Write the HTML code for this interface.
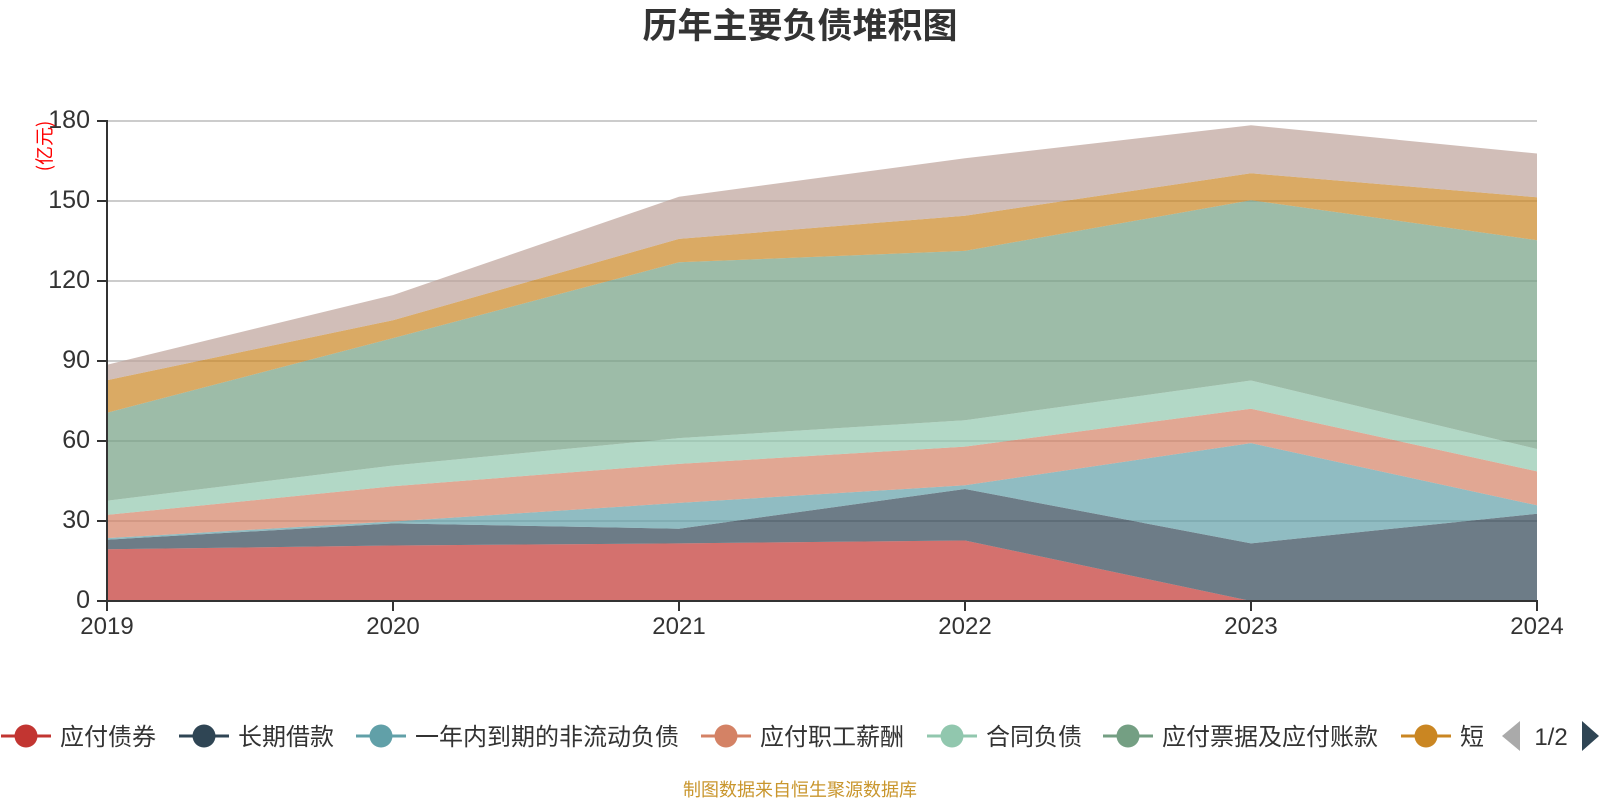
<!DOCTYPE html>
<html><head><meta charset="utf-8"><style>
html,body{margin:0;padding:0;background:#fff;}
svg{display:block;}
text{font-family:"Liberation Sans","Noto Sans CJK SC",sans-serif;}
</style></head><body>
<svg width="1600" height="800" viewBox="0 0 1600 800" xmlns="http://www.w3.org/2000/svg">
<rect width="1600" height="800" fill="#fff"/>
<text x="800" y="38" text-anchor="middle" font-size="35" font-weight="bold" fill="#333" style="font-family:'Noto Sans CJK SC','WenQuanYi Zen Hei',sans-serif">历年主要负债堆积图</text>
<g stroke="#ccc" stroke-width="2">
<line x1="107" y1="121" x2="1537" y2="121"/>
<line x1="107" y1="201" x2="1537" y2="201"/>
<line x1="107" y1="281" x2="1537" y2="281"/>
<line x1="107" y1="361" x2="1537" y2="361"/>
<line x1="107" y1="441" x2="1537" y2="441"/>
<line x1="107" y1="521" x2="1537" y2="521"/>
</g>
<g fill-opacity="0.7" stroke="none">
<polygon fill="#c23531" points="107,549.3 393,545.5 679,543.4 965,540.5 1251,601 1537,601 1537,601 107,601"/>
<polygon fill="#2f4554" points="107,539.7 393,523.4 679,528.7 965,489.0 1251,543.4 1537,513.8 1537,601 1251,601 965,540.5 679,543.4 393,545.5 107,549.3"/>
<polygon fill="#61a0a8" points="107,538.1 393,521.5 679,502.9 965,485.3 1251,443.1 1537,505.3 1537,513.8 1251,543.4 965,489.0 679,528.7 393,523.4 107,539.7"/>
<polygon fill="#d48265" points="107,514.9 393,486.3 679,463.9 965,446.6 1251,408.7 1537,471.4 1537,505.3 1251,443.1 965,485.3 679,502.9 393,521.5 107,538.1"/>
<polygon fill="#91c7ae" points="107,500.7 393,465.5 679,438.1 965,420.2 1251,380.5 1537,449.0 1537,471.4 1251,408.7 965,446.6 679,463.9 393,486.3 107,514.9"/>
<polygon fill="#749f83" points="107,412.7 393,338.1 679,262.3 965,250.9 1251,200.2 1537,240.2 1537,449.0 1251,380.5 965,420.2 679,438.1 393,465.5 107,500.7"/>
<polygon fill="#ca8622" points="107,380.2 393,320.2 679,238.9 965,215.7 1251,173.3 1537,197.3 1537,240.2 1251,200.2 965,250.9 679,262.3 393,338.1 107,412.7"/>
<polygon fill="#bda29a" points="107,364.7 393,295.1 679,196.7 965,158.3 1251,125.3 1537,153.5 1537,197.3 1251,173.3 965,215.7 679,238.9 393,320.2 107,380.2"/>
</g>
<g stroke="#333" stroke-width="2">
<line x1="107" y1="120" x2="107" y2="602"/>
<line x1="106" y1="601" x2="1538" y2="601"/>
<line x1="97" y1="121" x2="107" y2="121"/>
<line x1="97" y1="201" x2="107" y2="201"/>
<line x1="97" y1="281" x2="107" y2="281"/>
<line x1="97" y1="361" x2="107" y2="361"/>
<line x1="97" y1="441" x2="107" y2="441"/>
<line x1="97" y1="521" x2="107" y2="521"/>
<line x1="97" y1="601" x2="107" y2="601"/>
<line x1="107" y1="601" x2="107" y2="611"/>
<line x1="393" y1="601" x2="393" y2="611"/>
<line x1="679" y1="601" x2="679" y2="611"/>
<line x1="965" y1="601" x2="965" y2="611"/>
<line x1="1251" y1="601" x2="1251" y2="611"/>
<line x1="1537" y1="601" x2="1537" y2="611"/>
</g>
<g font-size="25" fill="#333" text-anchor="end">
<text x="90" y="128">180</text>
<text x="90" y="208">150</text>
<text x="90" y="288">120</text>
<text x="90" y="368">90</text>
<text x="90" y="448">60</text>
<text x="90" y="528">30</text>
<text x="90" y="608">0</text>
</g>
<g font-size="24" fill="#333" text-anchor="middle">
<text x="107" y="634">2019</text>
<text x="393" y="634">2020</text>
<text x="679" y="634">2021</text>
<text x="965" y="634">2022</text>
<text x="1251" y="634">2023</text>
<text x="1537" y="634">2024</text>
</g>
<text transform="translate(51,146) rotate(-90)" text-anchor="middle" font-size="19" fill="#f00" style="font-family:'Noto Sans CJK SC',sans-serif">(亿元)</text>
<g stroke-width="3">
<line x1="1" y1="736" x2="51" y2="736" stroke="#c23531"/>
<line x1="179" y1="736" x2="229" y2="736" stroke="#2f4554"/>
<line x1="356" y1="736" x2="406" y2="736" stroke="#61a0a8"/>
<line x1="701" y1="736" x2="751" y2="736" stroke="#d48265"/>
<line x1="927" y1="736" x2="977" y2="736" stroke="#91c7ae"/>
<line x1="1103" y1="736" x2="1153" y2="736" stroke="#749f83"/>
<line x1="1401" y1="736" x2="1451" y2="736" stroke="#ca8622"/>
</g>
<circle cx="26" cy="736" r="11.5" fill="#c23531"/>
<circle cx="204" cy="736" r="11.5" fill="#2f4554"/>
<circle cx="381" cy="736" r="11.5" fill="#61a0a8"/>
<circle cx="726" cy="736" r="11.5" fill="#d48265"/>
<circle cx="952" cy="736" r="11.5" fill="#91c7ae"/>
<circle cx="1128" cy="736" r="11.5" fill="#749f83"/>
<circle cx="1426" cy="736" r="11.5" fill="#ca8622"/>
<g font-size="24" fill="#333" style="font-family:'Noto Sans CJK SC',sans-serif">
<text x="60" y="745">应付债券</text>
<text x="238" y="745">长期借款</text>
<text x="415" y="745">一年内到期的非流动负债</text>
<text x="760" y="745">应付职工薪酬</text>
<text x="986" y="745">合同负债</text>
<text x="1162" y="745">应付票据及应付账款</text>
<text x="1460" y="745">短</text>
</g>
<polygon points="1502,736 1520,721 1520,751" fill="#aaa"/>
<text x="1551" y="745" font-size="24" fill="#333" text-anchor="middle">1/2</text>
<polygon points="1599,736 1582,721 1582,751" fill="#2f4554"/>
<text x="800" y="796" text-anchor="middle" font-size="18" fill="#c9962d" style="font-family:'Noto Sans CJK SC',sans-serif">制图数据来自恒生聚源数据库</text>
</svg>
</body></html>
